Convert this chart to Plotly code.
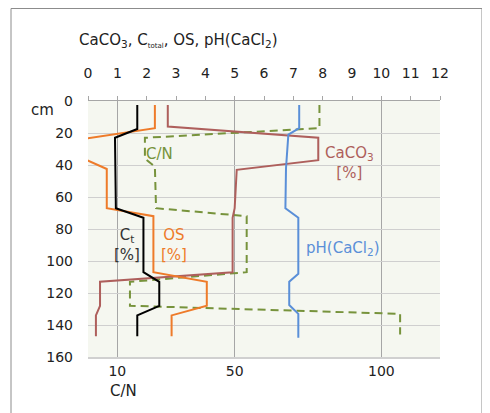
import plotly.graph_objects as go

# ---- data (depth in cm) ----
ct_depth = [2.5, 17.5, 23, 67, 73, 107, 113, 128, 134, 147]
ct_vals = [1.68, 1.68, 0.92, 0.95, 1.89, 1.89, 2.43, 2.43, 1.68, 1.68]

os_depth = [2.5, 17, 23.5, 36.5, 42.5, 67, 72, 107, 113, 128, 134, 147]
os_vals = [2.28, 2.28, -0.1, -0.1, 0.64, 0.64, 2.23, 2.23, 4.05, 4.05, 2.85, 2.85]

caco3_depth = [2.5, 16, 23, 37, 43, 67, 73, 107, 113, 128, 134, 147]
caco3_vals = [2.72, 2.72, 7.85, 7.85, 5.07, 5.0, 4.93, 4.93, 0.41, 0.41, 0.27, 0.27]

ph_depth = [2.5, 17, 21, 42, 67, 73, 108, 113, 127.5, 133, 148]
ph_vals = [7.2, 7.2, 6.83, 6.75, 6.73, 7.17, 7.17, 6.86, 6.86, 7.17, 7.17]

cn_depth = [2.5, 17, 23, 36, 41, 67, 72, 107, 113, 128, 133, 146]
cn_vals = [78.9, 78.9, 19.4, 19.4, 22.8, 23.2, 54.1, 54.1, 14.3, 14.3, 106.4, 106.4]

top_ticks = list(range(0, 13))
bottom_ticks = [10, 50, 100]
depth_ticks = list(range(0, 161, 20))

FONT = "DejaVu Sans"
C_CT = "#000000"
C_OS = "#EE7B2A"
C_CA = "#AE5F5C"
C_PH = "#5A8FD8"
C_CN = "#77933C"

# figure is placed 8px in from the page edge (body margin), so size/offsets compensate
W, H = 482, 405
L, T, R, B = 80, 93, 50, 56
PW, PH = W - L - R, H - T - B


def px(x):
    return (x - L) / PW


def py(y):
    return (H - B - y) / PH


fig = go.Figure()
fig.add_trace(go.Scatter(x=cn_vals, y=cn_depth, xaxis="x", yaxis="y", mode="lines",
                         line=dict(color=C_CN, width=2, dash="8px,5px"), name="C/N"))
fig.add_trace(go.Scatter(x=caco3_vals, y=caco3_depth, xaxis="x2", yaxis="y", mode="lines",
                         line=dict(color=C_CA, width=2), name="CaCO3"))
fig.add_trace(go.Scatter(x=os_vals, y=os_depth, xaxis="x2", yaxis="y", mode="lines",
                         line=dict(color=C_OS, width=2), name="OS"))
fig.add_trace(go.Scatter(x=ph_vals, y=ph_depth, xaxis="x2", yaxis="y", mode="lines",
                         line=dict(color=C_PH, width=2), name="pH"))
fig.add_trace(go.Scatter(x=ct_vals, y=ct_depth, xaxis="x2", yaxis="y", mode="lines",
                         line=dict(color=C_CT, width=2), name="Ct"))

fig.update_layout(
    width=W, height=H,
    margin=dict(l=L, r=R, t=T, b=B, autoexpand=False),
    paper_bgcolor="white",
    plot_bgcolor="#F5F7F0",
    showlegend=False,
    font=dict(family=FONT, size=14, color="#222222"),
    xaxis=dict(range=[0, 120], tickvals=bottom_ticks, ticktext=[str(v) for v in bottom_ticks],
               showgrid=True, gridcolor="#A6A6A6", gridwidth=1, zeroline=False,
               showline=True, linecolor="#D0D0D0", linewidth=2, ticks="",
               tickfont=dict(size=14), fixedrange=True, automargin=False),
    xaxis2=dict(range=[0, 12], overlaying="x", side="top", tickvals=top_ticks,
                showgrid=False, zeroline=False, showline=True, linecolor="#A6A6A6",
                ticks="outside", ticklen=4, tickcolor="#A6A6A6",
                ticklabelstandoff=12, tickfont=dict(size=14), fixedrange=True, automargin=False),
    yaxis=dict(range=[160, 0], tickvals=depth_ticks, showgrid=True, gridcolor="#CFCFCF",
               zeroline=False, showline=False, ticks="", ticklabelstandoff=14,
               tickfont=dict(size=14), fixedrange=True, automargin=False),
)

# outer frame
fig.add_shape(type="rect", xref="paper", yref="paper",
              x0=px(3), x1=px(474), y0=py(420), y1=py(0.5),
              line=dict(color="#8C8C8C", width=1), fillcolor="rgba(0,0,0,0)", layer="below")

anns = [
    dict(text="CaCO<sub>3</sub>, C<sub><span style='font-size:7px'>total</span></sub>, OS, pH(CaCl<sub>2</sub>)",
         xref="paper", yref="paper", x=px(69), y=py(32),
         xanchor="left", yanchor="middle", showarrow=False, font=dict(size=15, color="#222222")),
    dict(text="cm", xref="paper", yref="paper", x=px(34), y=py(102),
         xanchor="center", yanchor="middle", showarrow=False, font=dict(size=15, color="#222222")),
    dict(text="C/N", xref="paper", yref="paper", x=px(100), y=py(383),
         xanchor="left", yanchor="middle", showarrow=False, font=dict(size=15, color="#222222")),
    dict(text="C/N", xref="x2", yref="y", x=2.45, y=33, xanchor="center", yanchor="middle",
         showarrow=False, font=dict(size=15, color=C_CN)),
    dict(text="CaCO<sub>3</sub><br>[%]", xref="x2", yref="y", x=8.9, y=39, xanchor="center",
         yanchor="middle", showarrow=False, font=dict(size=15, color=C_CA)),
    dict(text="C<sub>t</sub><br>[%]", xref="x2", yref="y", x=1.32, y=90, xanchor="center",
         yanchor="middle", showarrow=False, font=dict(size=15, color="#333333")),
    dict(text="OS<br>[%]", xref="x2", yref="y", x=2.92, y=90, xanchor="center",
         yanchor="middle", showarrow=False, font=dict(size=15, color=C_OS)),
    dict(text="pH(CaCl<sub>2</sub>)", xref="x2", yref="y", x=8.7, y=92, xanchor="center",
         yanchor="middle", showarrow=False, font=dict(size=15, color=C_PH)),
]
fig.update_layout(annotations=anns)

fig.write_html("out.html")
